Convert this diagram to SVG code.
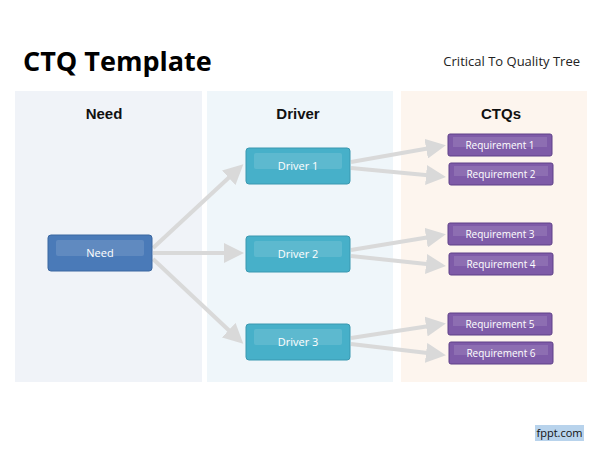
<svg xmlns="http://www.w3.org/2000/svg" width="600" height="450" viewBox="0 0 600 450">
<style>
text{font-family:"Open Sans","Liberation Sans",sans-serif}
.h{font-family:"Liberation Sans",Arial,sans-serif;font-weight:bold;font-size:15px;text-anchor:middle;fill:#111}
.c{stroke:#d9d9d9;stroke-width:4;fill:none;marker-end:url(#a)}
.need rect.o{fill:#4a7ab8;stroke:#3a66a0}
.drv rect.o{fill:#47b0c9;stroke:#3a98b0}
.req rect.o{fill:#7e5ba8;stroke:#5f4088}
rect.i{fill:#fff;opacity:0.12}
.t{fill:#fff;font-size:11px;text-anchor:middle}
.rt{fill:#fff;font-size:10px;text-anchor:middle}
</style>
<defs>
<marker id="a" markerWidth="5" markerHeight="5" refX="2.5" refY="2.5" orient="auto" markerUnits="strokeWidth"><path d="M0,0 L5,2.5 L0,5 z" fill="#d9d9d9"/></marker>
</defs>
<rect width="600" height="450" fill="#fff"/>
<text x="23" y="71" font-family="'Liberation Sans',Arial,sans-serif" font-weight="bold" font-size="27" fill="#000">CTQ Template</text>
<text x="580" y="66" font-size="13" text-anchor="end" fill="#222">Critical To Quality Tree</text>
<rect x="15" y="91" width="187" height="291" fill="#f0f3f8"/>
<rect x="207" y="91" width="186" height="291" fill="#eff6fa"/>
<rect x="401" y="91" width="186" height="291" fill="#fdf5ee"/>
<text class="h" x="104" y="119">Need</text>
<text class="h" x="298" y="119">Driver</text>
<text class="h" x="501" y="119">CTQs</text>
<g id="connectors">
<path class="c" d="M153,248 L236,171"/>
<path class="c" d="M153,253 L234,253"/>
<path class="c" d="M153,259 L236,337"/>
<path class="c" d="M351,162 L436,147"/>
<path class="c" d="M351,168 L436,176"/>
<path class="c" d="M351,250 L436,236"/>
<path class="c" d="M351,256 L436,265"/>
<path class="c" d="M351,338 L436,325"/>
<path class="c" d="M351,344 L436,354"/>
</g>
<g id="need" class="need"><rect class="o" x="48" y="235" width="104" height="36" rx="3"/><rect class="i" x="56" y="240" width="88" height="16" rx="2"/><text class="t" x="100" y="257">Need</text></g>
<g id="driver1" class="drv"><rect class="o" x="246" y="148" width="104" height="36" rx="3"/><rect class="i" x="254" y="153" width="88" height="16" rx="2"/><text class="t" x="298" y="170">Driver 1</text></g>
<g id="driver2" class="drv"><rect class="o" x="246" y="236" width="104" height="36" rx="3"/><rect class="i" x="254" y="241" width="88" height="16" rx="2"/><text class="t" x="298" y="258">Driver 2</text></g>
<g id="driver3" class="drv"><rect class="o" x="246" y="324" width="104" height="36" rx="3"/><rect class="i" x="254" y="329" width="88" height="16" rx="2"/><text class="t" x="298" y="346">Driver 3</text></g>
<g id="req1" class="req"><rect class="o" x="448" y="134" width="104" height="22" rx="2"/><rect class="i" x="453" y="137" width="94" height="10"/><text class="rt" x="500" y="149">Requirement  1</text></g>
<g id="req2" class="req"><rect class="o" x="449" y="163" width="104" height="22" rx="2"/><rect class="i" x="454" y="166" width="94" height="10"/><text class="rt" x="501" y="178">Requirement  2</text></g>
<g id="req3" class="req"><rect class="o" x="448" y="223" width="104" height="22" rx="2"/><rect class="i" x="453" y="226" width="94" height="10"/><text class="rt" x="500" y="238">Requirement  3</text></g>
<g id="req4" class="req"><rect class="o" x="449" y="253" width="104" height="22" rx="2"/><rect class="i" x="454" y="256" width="94" height="10"/><text class="rt" x="501" y="268">Requirement  4</text></g>
<g id="req5" class="req"><rect class="o" x="448" y="313" width="104" height="22" rx="2"/><rect class="i" x="453" y="316" width="94" height="10"/><text class="rt" x="500" y="328">Requirement  5</text></g>
<g id="req6" class="req"><rect class="o" x="449" y="342" width="104" height="22" rx="2"/><rect class="i" x="454" y="345" width="94" height="10"/><text class="rt" x="501" y="357">Requirement  6</text></g>
<rect x="535" y="425" width="49" height="16" fill="#b8d3ec"/>
<text x="559.5" y="437" font-size="11" text-anchor="middle" fill="#111">fppt.com</text>
</svg>
